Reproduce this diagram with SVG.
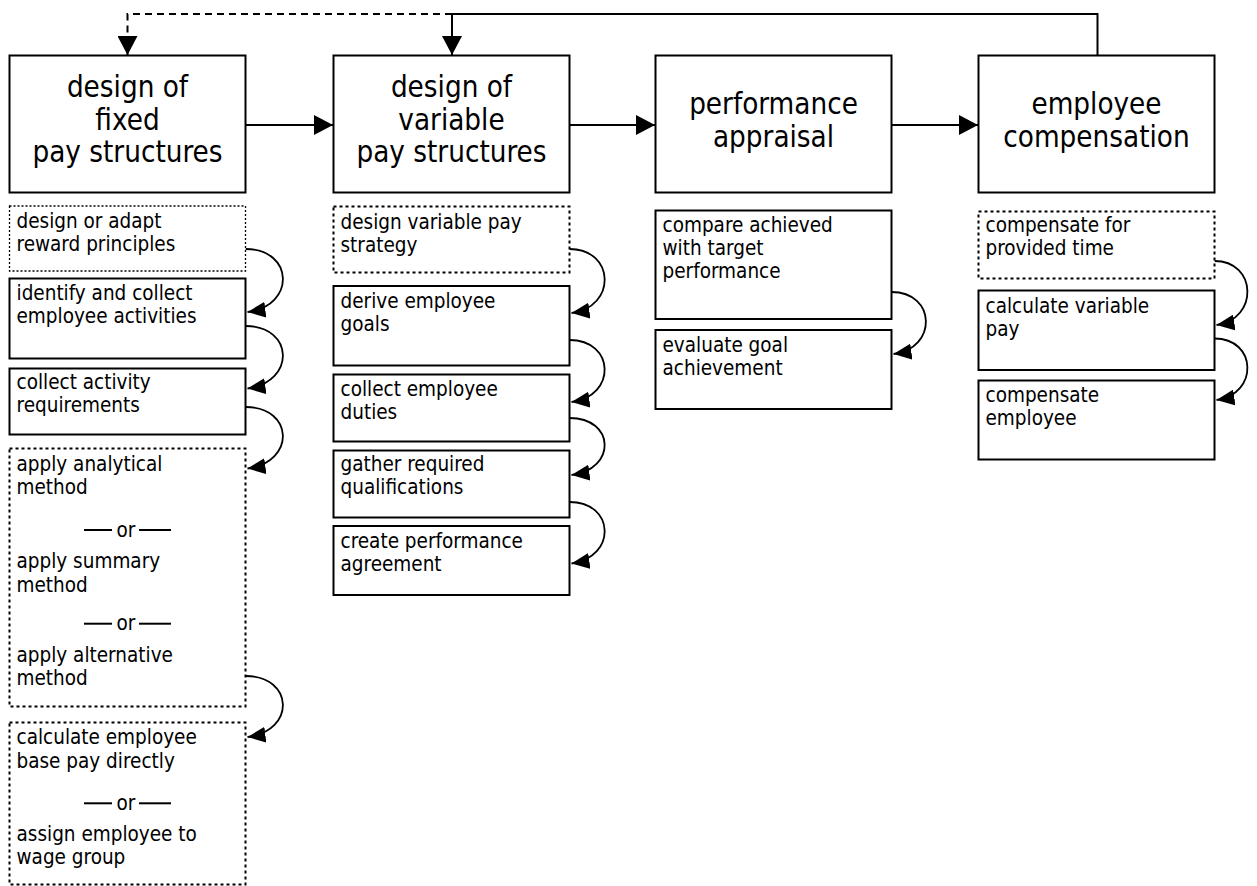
<svg xmlns="http://www.w3.org/2000/svg" width="1257" height="886" viewBox="0 0 1257 886">
  <defs>
    <style>
      .box { fill: #fff; stroke: #000; stroke-width: 2; }
      .dotted { stroke-width: 1.3; stroke-dasharray: 2 2; }
      .dashed { stroke-dasharray: 3 3; }
      .title { font-family: "DejaVu Sans Condensed", "DejaVu Sans", sans-serif; font-stretch: condensed; font-size: 29.3px; text-anchor: middle; fill: #000; }
      .lbl { font-family: "DejaVu Sans Condensed", "DejaVu Sans", sans-serif; font-stretch: condensed; font-size: 20.5px; fill: #000; }
      .or { text-anchor: middle; }
      .sep { stroke: #000; stroke-width: 2; }
      .flow { fill: none; stroke: #000; stroke-width: 2; }
      .curve { fill: none; stroke: #000; stroke-width: 1.8; marker-end: url(#curveHead); }
      .topdash { stroke-dasharray: 7 5; }
    </style>
    <marker id="head" markerUnits="userSpaceOnUse" markerWidth="19" markerHeight="20" refX="19" refY="10" orient="auto">
      <path d="M0,0 L19,10 L0,20 z" fill="#000"/>
    </marker>
    <marker id="curveHead" markerUnits="userSpaceOnUse" markerWidth="18" markerHeight="16" refX="18" refY="8" orient="auto">
      <path d="M0,0 L18,8 L0,16 z" fill="#000"/>
    </marker>
  </defs>

  <rect width="1257" height="886" fill="#fff"/>

  <!-- connectors -->
  <g id="connectors">
    <path class="flow topdash" d="M452,14 H127.5 V55" marker-end="url(#head)"/>
    <path class="flow" d="M1097.5,55.5 V14 H452 V55" marker-end="url(#head)"/>
    <path class="flow" d="M245.5,125 H333" marker-end="url(#head)"/>
    <path class="flow" d="M569.5,125 H655" marker-end="url(#head)"/>
    <path class="flow" d="M891.5,125 H978" marker-end="url(#head)"/>

    <!-- step sequence: fixed pay -->
    <path class="curve" d="M245.5,249 C294,249 296,306 247.5,312"/>
    <path class="curve" d="M245.5,326 C294,326 296,382 247.5,388.5"/>
    <path class="curve" d="M245.5,407 C294,407 296,462 247.5,468.5"/>
    <path class="curve" d="M245.5,676 C294,676 296,731 247.5,737"/>
    <!-- step sequence: variable pay -->
    <path class="curve" d="M569.5,249 C615,249 617,307 571.5,313"/>
    <path class="curve" d="M569.5,340 C615,340 617,396 571.5,402"/>
    <path class="curve" d="M569.5,418 C615,418 617,469 571.5,475"/>
    <path class="curve" d="M569.5,502 C615,502 617,557 571.5,563.5"/>
    <!-- step sequence: appraisal -->
    <path class="curve" d="M891.5,292 C936,292 938,348 893.5,354"/>
    <!-- step sequence: compensation -->
    <path class="curve" d="M1214.5,261 C1257,261 1259,319 1216.5,325"/>
    <path class="curve" d="M1214.5,338.5 C1257,338.5 1259,394 1216.5,400"/>
  </g>

  <!-- main process steps -->
  <g id="fixed-pay">
    <rect class="box" x="9.5" y="55.5" width="236" height="137"/>
    <text class="title" x="127.5" y="97">design of</text>
    <text class="title" x="127.5" y="129.5">fixed</text>
    <text class="title" x="127.5" y="162">pay structures</text>
  </g>
  <g id="variable-pay">
    <rect class="box" x="333.5" y="55.5" width="236" height="137"/>
    <text class="title" x="451.5" y="97">design of</text>
    <text class="title" x="451.5" y="129.5">variable</text>
    <text class="title" x="451.5" y="162">pay structures</text>
  </g>
  <g id="appraisal">
    <rect class="box" x="655.5" y="55.5" width="236" height="137"/>
    <text class="title" x="773.5" y="114">performance</text>
    <text class="title" x="773.5" y="146.5">appraisal</text>
  </g>
  <g id="compensation">
    <rect class="box" x="978.5" y="55.5" width="236" height="137"/>
    <text class="title" x="1096.5" y="114">employee</text>
    <text class="title" x="1096.5" y="146.5">compensation</text>
  </g>

  <!-- fixed pay sub-steps -->
  <g id="reward-principles">
    <rect class="box dotted" x="9.5" y="206" width="236" height="65"/>
    <text class="lbl" x="16.5" y="227.5">design or adapt</text>
    <text class="lbl" x="16.5" y="250.8">reward principles</text>
  </g>
  <g id="employee-activities">
    <rect class="box" x="9.5" y="278.5" width="236" height="80"/>
    <text class="lbl" x="16.5" y="299.5">identify and collect</text>
    <text class="lbl" x="16.5" y="322.8">employee activities</text>
  </g>
  <g id="activity-requirements">
    <rect class="box" x="9.5" y="368.5" width="236" height="66"/>
    <text class="lbl" x="16.5" y="389">collect activity</text>
    <text class="lbl" x="16.5" y="412.3">requirements</text>
  </g>
  <g id="evaluation-method">
    <rect class="box dashed" x="9.5" y="448.5" width="236" height="258"/>
    <text class="lbl" x="16.5" y="471">apply analytical</text>
    <text class="lbl" x="16.5" y="494.3">method</text>
    <line class="sep" x1="84" y1="530" x2="112" y2="530"/>
    <text class="lbl or" x="126" y="536.5">or</text>
    <line class="sep" x1="139" y1="530" x2="171" y2="530"/>
    <text class="lbl" x="16.5" y="568.3">apply summary</text>
    <text class="lbl" x="16.5" y="591.6">method</text>
    <line class="sep" x1="84" y1="623.7" x2="112" y2="623.7"/>
    <text class="lbl or" x="126" y="630.2">or</text>
    <line class="sep" x1="139" y1="623.7" x2="171" y2="623.7"/>
    <text class="lbl" x="16.5" y="661.7">apply alternative</text>
    <text class="lbl" x="16.5" y="685">method</text>
  </g>
  <g id="base-pay">
    <rect class="box dashed" x="9.5" y="722.5" width="236" height="162"/>
    <text class="lbl" x="16.5" y="744.3">calculate employee</text>
    <text class="lbl" x="16.5" y="767.6">base pay directly</text>
    <line class="sep" x1="84" y1="803.3" x2="112" y2="803.3"/>
    <text class="lbl or" x="126" y="809.8">or</text>
    <line class="sep" x1="139" y1="803.3" x2="171" y2="803.3"/>
    <text class="lbl" x="16.5" y="841">assign employee to</text>
    <text class="lbl" x="16.5" y="864.3">wage group</text>
  </g>

  <!-- variable pay sub-steps -->
  <g id="variable-pay-strategy">
    <rect class="box dashed" x="333.5" y="206.5" width="236" height="66"/>
    <text class="lbl" x="340.5" y="229">design variable pay</text>
    <text class="lbl" x="340.5" y="252.3">strategy</text>
  </g>
  <g id="employee-goals">
    <rect class="box" x="333.5" y="286" width="236" height="79.5"/>
    <text class="lbl" x="340.5" y="308">derive employee</text>
    <text class="lbl" x="340.5" y="331.3">goals</text>
  </g>
  <g id="employee-duties">
    <rect class="box" x="333.5" y="374.5" width="236" height="67"/>
    <text class="lbl" x="340.5" y="396">collect employee</text>
    <text class="lbl" x="340.5" y="419.3">duties</text>
  </g>
  <g id="qualifications">
    <rect class="box" x="333.5" y="450.5" width="236" height="67"/>
    <text class="lbl" x="340.5" y="471">gather required</text>
    <text class="lbl" x="340.5" y="494.3">qualifications</text>
  </g>
  <g id="performance-agreement">
    <rect class="box" x="333.5" y="526" width="236" height="69"/>
    <text class="lbl" x="340.5" y="547.7">create performance</text>
    <text class="lbl" x="340.5" y="571">agreement</text>
  </g>

  <!-- appraisal sub-steps -->
  <g id="compare-performance">
    <rect class="box" x="655.5" y="210.5" width="236" height="108.5"/>
    <text class="lbl" x="662.5" y="231.7">compare achieved</text>
    <text class="lbl" x="662.5" y="255">with target</text>
    <text class="lbl" x="662.5" y="278.3">performance</text>
  </g>
  <g id="goal-achievement">
    <rect class="box" x="655.5" y="330" width="236" height="79"/>
    <text class="lbl" x="662.5" y="351.7">evaluate goal</text>
    <text class="lbl" x="662.5" y="375">achievement</text>
  </g>

  <!-- compensation sub-steps -->
  <g id="provided-time">
    <rect class="box dashed" x="978.5" y="211.5" width="236" height="67"/>
    <text class="lbl" x="985.5" y="232">compensate for</text>
    <text class="lbl" x="985.5" y="255.3">provided time</text>
  </g>
  <g id="variable-pay-calc">
    <rect class="box" x="978.5" y="290.5" width="236" height="79.5"/>
    <text class="lbl" x="985.5" y="312.5">calculate variable</text>
    <text class="lbl" x="985.5" y="335.8">pay</text>
  </g>
  <g id="compensate-employee">
    <rect class="box" x="978.5" y="380.5" width="236" height="79"/>
    <text class="lbl" x="985.5" y="401.7">compensate</text>
    <text class="lbl" x="985.5" y="425">employee</text>
  </g>
</svg>
